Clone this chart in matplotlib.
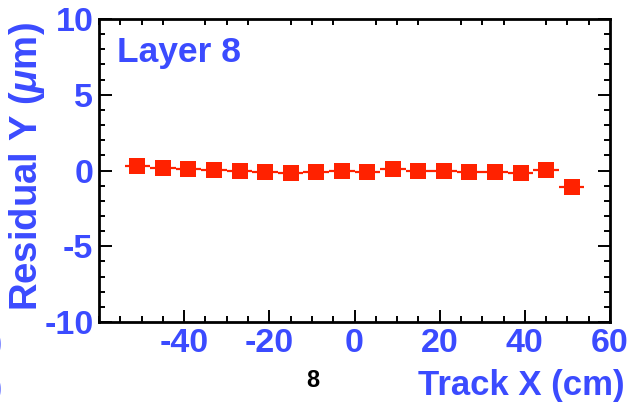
import numpy as np
import matplotlib.pyplot as plt
from matplotlib.ticker import MultipleLocator

# residual Y vs track X, layer 8
track_x = [-51, -45, -39, -33, -27, -21, -15, -9, -3, 3, 9, 15, 21, 27, 33, 39, 45, 51]
resid_y = [0.27, 0.18, 0.11, 0.06, 0.0, -0.11, -0.15, -0.13, 0.0, -0.07,
           0.11, -0.05, 0.0, -0.07, -0.07, -0.15, 0.05, -1.06]
bin_half = [3] * len(track_x)

blue = '#3b4bff'
red = '#ff2200'

plt.rcParams['font.family'] = ['Liberation Sans', 'DejaVu Sans']
plt.rcParams['font.weight'] = 'bold'
plt.rcParams['axes.unicode_minus'] = False
plt.rcParams['mathtext.fontset'] = 'custom'
plt.rcParams['mathtext.it'] = 'Liberation Sans:italic:bold'
plt.rcParams['mathtext.rm'] = 'Liberation Sans:bold'

fig = plt.figure(figsize=(6.29, 4.07), dpi=100)
ax = fig.add_axes([0.1574, 0.2088, 0.8124, 0.7445])

ax.errorbar(track_x, resid_y, xerr=bin_half, fmt='s', color=red, ms=11.5,
            elinewidth=1.6, capsize=0, mew=0)

ax.set_xlim(-60, 60)
ax.set_ylim(-10, 10)
ax.set_xticks([-40, -20, 0, 20, 40, 60])
ax.xaxis.set_minor_locator(MultipleLocator(5))
ax.yaxis.set_major_locator(MultipleLocator(5))
ax.yaxis.set_minor_locator(MultipleLocator(1))

ax.tick_params(which='both', direction='in', top=True, right=True, width=1.4)
ax.tick_params(which='major', length=9)
ax.tick_params(which='minor', length=4.5)
ax.tick_params(axis='x', which='major', top=False)
ax.tick_params(labelsize=24.5, labelcolor=blue, pad=4)
for lab in ax.get_xticklabels() + ax.get_yticklabels():
    lab.set_fontweight('bold')
for s in ax.spines.values():
    s.set_linewidth(2)

ax.text(0.036, 0.89, 'Layer 8', transform=ax.transAxes, color=blue,
        fontsize=25.5, fontweight='bold', va='center', ha='left')

fig.text(0.043, 0.59, r'Residual Y ($\mu$m)', rotation=90, color=blue,
         fontsize=27.5, fontweight='bold', ha='center', va='center')
fig.text(0.993, 0.052, 'Track X (cm)', color=blue, fontsize=25,
         fontweight='bold', ha='right', va='center')
fig.text(0.497, 0.066, '8', color='black', fontsize=17,
         fontweight='bold', ha='center', va='center')

# bits of the next panel's labels cut at the left edge
fig.text(-0.012, 0.155, ')', color=blue, fontsize=22, fontweight='bold', va='center')
fig.text(-0.012, 0.045, ')', color=blue, fontsize=22, fontweight='bold', va='center')

fig.savefig('out.png', dpi=100)
